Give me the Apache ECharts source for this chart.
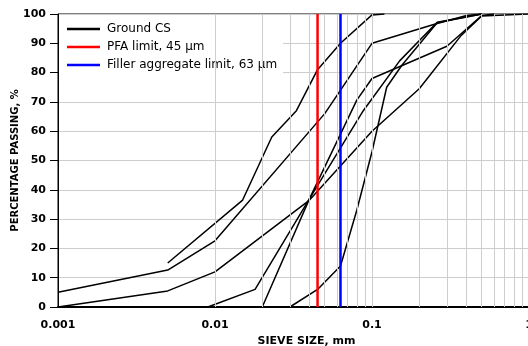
<!DOCTYPE html>
<html><head><meta charset="utf-8">
<script src="https://cdn.jsdelivr.net/npm/echarts@6/dist/echarts.min.js"></script>
<style>html,body{margin:0;padding:0;background:#fff}#c{width:528px;height:346px}</style>
</head><body><div id="c"></div>
<script>
// ---- data ----
const xTickLabels = ['0.001', '0.01', '0.1', '1'];
const yTickValues = [0, 10, 20, 30, 40, 50, 60, 70, 80, 90, 100];
const pfaLimit = 0.045;      // mm
const fillerLimit = 0.063;   // mm
const minorMultipliers = [2, 3, 4, 5, 6, 7, 8, 9];

const csA = [[0.001, 5], [0.005, 12.6], [0.01, 22.6], [0.05, 66], [0.1, 90], [0.25, 96.5], [0.4, 99.5], [0.5, 100]];
const csB = [[0.005, 15], [0.015, 36.5], [0.023, 58], [0.033, 67], [0.045, 81], [0.063, 90], [0.1, 99.7], [0.12, 100]];
const csC = [[0.001, 0], [0.005, 5.5], [0.01, 12], [0.04, 36.5], [0.1, 60], [0.2, 74.5], [0.37, 92.7], [0.5, 99.3], [1, 100]];
const csD = [[0.009, 0], [0.018, 6], [0.04, 37], [0.088, 67], [0.15, 84], [0.26, 97.2], [0.5, 100]];
const csE = [[0.02, 0], [0.04, 37], [0.08, 70.6], [0.1, 78], [0.3, 89], [0.5, 99.5], [0.6, 100]];
const csF = [[0.03, 0], [0.045, 6], [0.063, 14], [0.08, 33], [0.1, 53], [0.124, 75], [0.155, 82.5], [0.26, 97], [0.5, 100]];
const csSeries = [csA, csB, csC, csD, csE, csF];

const csName = 'Ground CS';
const pfaName = 'PFA limit, 45 \u00b5m';
const fillerName = 'Filler aggregate limit, 63 \u00b5m';

// ---- chart ----
const xMin = Number(xTickLabels[0]);
const xMax = Number(xTickLabels[xTickLabels.length - 1]);
const minorLines = [];
for (let d = xMin; d < xMax * 0.999; d *= 10) {
  minorMultipliers.forEach(m => minorLines.push({ xAxis: +(d * m).toPrecision(6) }));
}
xTickLabels.slice(1, -1).forEach(t => minorLines.push({ xAxis: Number(t) }));

const FONT = 'DejaVu Sans';
const series = [];
series.push({
  type: 'line', data: [], z: 1, silent: true,
  markLine: {
    silent: true, symbol: 'none', animation: false,
    label: { show: false },
    lineStyle: { color: '#cdcdcd', width: 1, type: 'solid' },
    data: minorLines
  }
});
csSeries.forEach(d => series.push({
  name: csName, type: 'line', data: d, symbol: 'none', showSymbol: false, z: 3,
  lineStyle: { color: '#000', width: 1.5 }, itemStyle: { color: '#000' }
}));
series.push({
  name: pfaName, type: 'line', data: [[pfaLimit, 0], [pfaLimit, 100]], symbol: 'none', showSymbol: false, z: 4,
  lineStyle: { color: '#ff0000', width: 2.5 }, itemStyle: { color: '#ff0000' }
});
series.push({
  name: fillerName, type: 'line', data: [[fillerLimit, 0], [fillerLimit, 100]], symbol: 'none', showSymbol: false, z: 4,
  lineStyle: { color: '#0000ff', width: 2.5 }, itemStyle: { color: '#0000ff' }
});

const chart = echarts.init(document.getElementById('c'), null, { renderer: 'canvas' });
chart.setOption({
  animation: false,
  backgroundColor: '#fff',
  grid: {
    left: 58, top: 14, right: -1, bottom: 39, containLabel: false, outerBoundsMode: 'none',
    show: true, borderColor: '#000', borderWidth: 1, backgroundColor: 'transparent'
  },
  legend: {
    left: 59, top: 21, orient: 'vertical', backgroundColor: '#fff',
    padding: [1, 6, 5, 8], itemWidth: 33, itemHeight: 2.5, itemGap: 4, icon: 'rect',
    textStyle: { fontFamily: FONT, fontSize: 12, lineHeight: 14, color: '#000', padding: [0, 0, 0, 2] },
    data: [csName, pfaName, fillerName]
  },
  xAxis: {
    type: 'log', logBase: 10, min: xMin, max: xMax,
    name: 'SIEVE SIZE, mm', nameLocation: 'middle', nameGap: 29,
    nameTextStyle: { fontFamily: FONT, fontSize: 11, fontWeight: 'bold', color: '#000', padding: [0, 0, 0, 26] },
    axisLine: { show: true, lineStyle: { color: '#000', width: 2 } },
    axisTick: { show: false },
    axisLabel: {
      fontFamily: FONT, fontSize: 11, fontWeight: 'bold', color: '#000', margin: 13,
      formatter: v => xTickLabels.find(t => Math.abs(Math.log10(Number(t)) - Math.log10(v)) < 1e-6) || ''
    },
    splitLine: { show: false }
  },
  yAxis: {
    type: 'value', min: 0, max: 100, interval: 10,
    name: 'PERCENTAGE PASSING, %', nameLocation: 'middle', nameGap: 38, nameMoveOverlap: false,
    nameTextStyle: { fontFamily: FONT, fontSize: 10, fontWeight: 'bold', color: '#000' },
    axisLine: { show: true, lineStyle: { color: '#000', width: 1 } },
    axisTick: { show: true, length: 8, lineStyle: { color: '#000' } },
    axisLabel: {
      fontFamily: FONT, fontSize: 11, fontWeight: 'bold', color: '#000', margin: 12,
      formatter: v => yTickValues.includes(v) ? String(v) : ''
    },
    splitLine: { show: true, lineStyle: { color: '#cdcdcd', width: 1 } }
  },
  series
});
</script></body></html>
